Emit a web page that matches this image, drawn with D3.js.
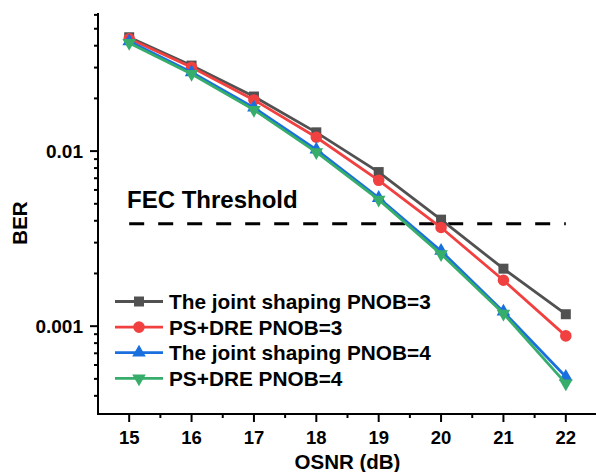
<!DOCTYPE html>
<html>
<head>
<meta charset="utf-8">
<script src="https://cdn.jsdelivr.net/npm/d3@7"></script>
<style>
  body { margin: 0; background: #fff; }
  svg { display: block; font-family: "Liberation Sans", Arial, sans-serif; }
</style>
</head>
<body>
<div class="container"></div>
<script>
// data
var osnr = [15, 16, 17, 18, 19, 20, 21, 22];
var jointPnob3 = [0.0447, 0.0308, 0.0205, 0.0128, 0.00759, 0.00406, 0.00213, 0.00117];
var psDrePnob3 = [0.0438, 0.0301, 0.0196, 0.0120, 0.00681, 0.00366, 0.00183, 0.00088];
var jointPnob4 = [0.0424, 0.0282, 0.0177, 0.0102, 0.00540, 0.00269, 0.00121, 0.000514];
var psDrePnob4 = [0.0415, 0.0276, 0.0172, 0.00987, 0.00528, 0.00258, 0.00118, 0.000471];
var seriesNames = ["The joint shaping PNOB=3", "PS+DRE PNOB=3", "The joint shaping PNOB=4", "PS+DRE PNOB=4"];
var fecThreshold = 0.00385;
var yTickLabels = [0.01, 0.001];

var width = 596, height = 472;
// plot box (named so they don't clash with window.top)
var plotLeft = 98, plotRight = 597, plotTop = 13, plotBottom = 414;

var series = [
    { name: seriesNames[0], values: jointPnob3, color: "#515151", symbol: d3.symbolSquare, size: 100, rot: 0 },
    { name: seriesNames[1], values: psDrePnob3, color: "#F14040", symbol: d3.symbolCircle, size: 105, rot: 0 },
    { name: seriesNames[2], values: jointPnob4, color: "#1A6FDF", symbol: d3.symbolTriangle, size: 80, rot: 0 },
    { name: seriesNames[3], values: psDrePnob4, color: "#37AD6B", symbol: d3.symbolTriangle, size: 80, rot: 180 }
];

var svg = d3.select(".container").append("svg")
    .attr("width", width)
    .attr("height", height);

var x = d3.scaleLinear().domain([14.5, 22.5]).range([plotLeft, plotRight]);
var y = d3.scaleLog().domain([0.000315, 0.0615]).range([plotBottom, plotTop]);

// x axis
var xAxis = svg.append("g").attr("transform", "translate(0," + plotBottom + ")");
xAxis.append("line").attr("x1", plotLeft - 1).attr("x2", plotRight)
    .attr("stroke", "#000").attr("stroke-width", 2);
var xMinor = d3.range(15, 22.6, 0.5);
xAxis.selectAll(".xt").data(xMinor).enter().append("line")
    .attr("x1", function(d) { return x(d); })
    .attr("x2", function(d) { return x(d); })
    .attr("y1", 0)
    .attr("y2", function(d) { return d % 1 === 0 ? 8 : 4; })
    .attr("stroke", "#000").attr("stroke-width", 2);
xAxis.selectAll(".xl").data(osnr).enter().append("text")
    .attr("x", function(d) { return x(d); })
    .attr("y", 30)
    .attr("text-anchor", "middle")
    .attr("font-size", 18.5).attr("font-weight", "bold")
    .text(function(d) { return d; });

// y axis
var yAxis = svg.append("g").attr("transform", "translate(" + plotLeft + ",0)");
yAxis.append("line").attr("y1", plotTop).attr("y2", plotBottom + 1)
    .attr("stroke", "#000").attr("stroke-width", 2);
var yMinor = [];
[0.0001, 0.001, 0.01].forEach(function(dec) {
    for (var k = 1; k < 10; k++) {
        var v = dec * k;
        if (v >= y.domain()[0] && v <= y.domain()[1]) yMinor.push(v);
    }
});
yAxis.selectAll(".yt").data(yMinor).enter().append("line")
    .attr("y1", function(d) { return y(d); })
    .attr("y2", function(d) { return y(d); })
    .attr("x1", 0)
    .attr("x2", function(d) {
        var isMajor = yTickLabels.some(function(t) { return Math.abs(t - d) / t < 1e-6; });
        return isMajor ? -8 : -4;
    })
    .attr("stroke", "#000").attr("stroke-width", 2);
yAxis.selectAll(".yl").data(yTickLabels).enter().append("text")
    .attr("x", -15)
    .attr("y", function(d) { return y(d) + 6.8; })
    .attr("text-anchor", "end")
    .attr("font-size", 19).attr("font-weight", "bold")
    .text(function(d) { return d; });

// axis titles
svg.append("text")
    .attr("x", (plotLeft + plotRight) / 2).attr("y", 469)
    .attr("text-anchor", "middle")
    .attr("font-size", 20.5).attr("font-weight", "bold")
    .text("OSNR (dB)");
svg.append("text")
    .attr("transform", "translate(27,223) rotate(-90)")
    .attr("text-anchor", "middle")
    .attr("font-size", 20.5).attr("font-weight", "bold")
    .text("BER");

// FEC threshold
svg.append("line")
    .attr("x1", x(15)).attr("x2", x(22))
    .attr("y1", y(fecThreshold)).attr("y2", y(fecThreshold))
    .attr("stroke", "#000").attr("stroke-width", 3)
    .attr("stroke-dasharray", "15,14");
svg.append("text")
    .attr("x", 127).attr("y", 208)
    .attr("font-size", 24).attr("font-weight", "bold")
    .text("FEC Threshold");

// series
var line = d3.line()
    .x(function(d, i) { return x(osnr[i]); })
    .y(function(d) { return y(d); });

series.forEach(function(s) {
    var g = svg.append("g");
    g.append("path")
        .attr("d", line(s.values))
        .attr("fill", "none")
        .attr("stroke", s.color)
        .attr("stroke-width", 2.8);
    g.selectAll("path.m").data(s.values).enter().append("path")
        .attr("class", "m")
        .attr("d", d3.symbol().type(s.symbol).size(s.size))
        .attr("transform", function(d, i) {
            return "translate(" + x(osnr[i]) + "," + y(d) + ") rotate(" + s.rot + ")";
        })
        .attr("fill", s.color);
});

// legend
var legend = svg.append("g");
series.forEach(function(s, i) {
    var ly = 301.5 + i * 25.6;
    legend.append("line")
        .attr("x1", 115).attr("x2", 163)
        .attr("y1", ly).attr("y2", ly)
        .attr("stroke", s.color).attr("stroke-width", 2.8);
    legend.append("path")
        .attr("d", d3.symbol().type(s.symbol).size(s.size))
        .attr("transform", "translate(139," + ly + ") rotate(" + s.rot + ")")
        .attr("fill", s.color);
    legend.append("text")
        .attr("x", 169).attr("y", ly + 7.5)
        .attr("font-size", 20.8).attr("font-weight", "bold")
        .text(s.name);
});
</script>
</body>
</html>
